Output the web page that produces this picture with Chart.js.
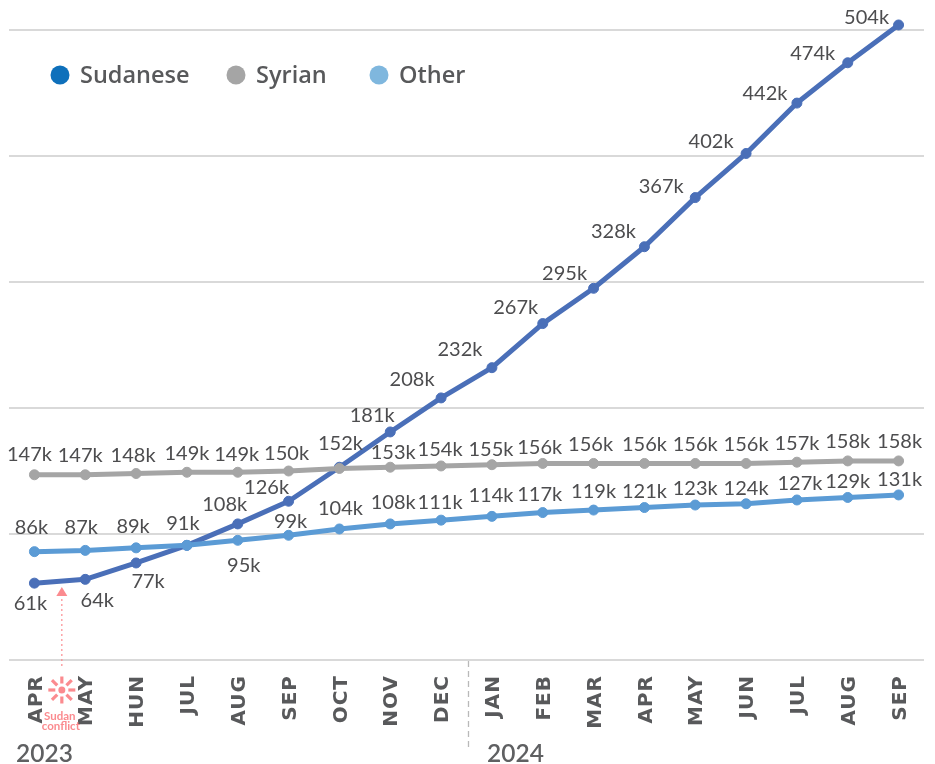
<!DOCTYPE html>
<html><head><meta charset="utf-8">
<style>html,body{margin:0;padding:0;background:#fff}canvas{display:block}</style>
<script src="https://cdn.jsdelivr.net/npm/chart.js@4"></script>
</head><body><canvas id="c" width="935" height="764"></canvas>
<script>
const months = ["APR","MAY","HUN","JUL","AUG","SEP","OCT","NOV","DEC","JAN","FEB","MAR","APR","MAY","JUN","JUL","AUG","SEP"];
const sudanese = [61,64,77,91,108,126,153,181,208,232,267,295,328,367,402,442,474,504];
const syrian = [147,147,148,149,149,150,152,153,154,155,156,156,156,156,156,157,158,158];
const other = [86,87,89,91,95,99,104,108,111,114,117,119,121,123,124,127,129,131];
const yearLabels = ["2023","2024"];
const yTicks = [0,100,200,300,400,500];

// label placement relative to each point (dx, dy); null = no label
const sudaneseOff = [[-4,20],[12,21],[12,19],null,[-13,-19],[-22,-14],null,[-18,-16],[-29,-18],[-32,-18],[-27,-16],[-29,-15],[-31,-15],[-34,-11],[-35,-12],[-32,-10],[-35,-9],[-32,-7]];
const syrianOff = [[-5,-20],[-5,-19],[-3,-18],[0,-19],[-1,-18],[-2,-17],[1,-25],[3,-15],[-1,-16],[-1,-15],[-3,-16],[-3,-19],[0,-19],[0,-19],[0,-19],[0,-19],[0,-19],[1,-19]];
const otherOff = [[-3,-24],[-4,-23],[-3,-21],[-4,-22],[6,25],[2,-14],[1,-20],[3,-21],[-1,-18],[-1,-21],[-3,-18],[0,-19],[0,-16],[0,-16],[0,-15],[3,-16],[0,-16],[1,-15]];
const offsets = [sudaneseOff, syrianOff, otherOff];
const legendX = [60,236,379];

const FONT = 'Lato, sans-serif';
const PINK = '#fb8b8f';

const annotations = {
  id:'annotations',
  beforeDraw(chart){ chart.ctx.letterSpacing='1px'; },
  afterDatasetsDraw(chart){
    const {ctx, scales:{x,y}} = chart;
    ctx.letterSpacing='0px';
    ctx.save();
    // value labels
    ctx.font = '20px '+FONT; ctx.fillStyle = '#4d4d4f';
    ctx.textAlign='center'; ctx.textBaseline='middle';
    chart.data.datasets.forEach((ds,i)=>{
      const meta = chart.getDatasetMeta(i);
      ds.data.forEach((v,j)=>{
        const o = offsets[i][j]; if(!o) return;
        const p = meta.data[j];
        ctx.fillText(v+'k', p.x+o[0], p.y+o[1]);
      });
    });
    // legend
    ctx.font='600 23.5px "Open Sans", sans-serif'; ctx.textAlign='left';
    chart.data.datasets.forEach((ds,i)=>{
      const lx=legendX[i];
      ctx.fillStyle=ds.backgroundColor;
      ctx.beginPath(); ctx.arc(lx,75,9.5,0,Math.PI*2); ctx.fill();
      ctx.fillStyle='#58595b';
      ctx.fillText(ds.label,lx+20,76);
    });
    // year divider
    const mid = (x.getPixelForTick(8)+x.getPixelForTick(9))/2+2;
    ctx.strokeStyle='#b9b9b9'; ctx.lineWidth=1.3; ctx.setLineDash([6,4]);
    ctx.beginPath(); ctx.moveTo(mid,y.bottom+1); ctx.lineTo(mid,747); ctx.stroke(); ctx.setLineDash([]);
    // year labels
    ctx.font='600 24.5px '+FONT; ctx.fillStyle='#5f6062'; ctx.textAlign='left'; ctx.textBaseline='alphabetic';
    ctx.fillText(yearLabels[0],16,762);
    ctx.fillText(yearLabels[1],487,762);
    // Sudan conflict marker
    const ax=(x.getPixelForTick(0)+x.getPixelForTick(1))/2+2;
    ctx.strokeStyle=PINK; ctx.fillStyle=PINK; ctx.lineWidth=1.2; ctx.setLineDash([2,3]);
    ctx.beginPath(); ctx.moveTo(ax,666); ctx.lineTo(ax,597); ctx.stroke(); ctx.setLineDash([]);
    ctx.beginPath(); ctx.moveTo(ax,587); ctx.lineTo(ax+5.5,596); ctx.lineTo(ax-5.5,596); ctx.closePath(); ctx.fill();
    const cy=690;
    ctx.beginPath(); ctx.arc(ax,cy,3.5,0,Math.PI*2); ctx.fill();
    ctx.lineWidth=3.2;
    for(let k=0;k<8;k++){
      const a=k*Math.PI/4; const r0=6.5, r1=k%2?14:13.5;
      ctx.beginPath(); ctx.moveTo(ax+Math.cos(a)*r0,cy+Math.sin(a)*r0); ctx.lineTo(ax+Math.cos(a)*r1,cy+Math.sin(a)*r1); ctx.stroke();
    }
    ctx.font='bold 11.5px '+FONT; ctx.textAlign='center'; ctx.textBaseline='middle';
    ctx.fillText('Sudan',ax-2,716);
    ctx.fillText('conflict',ax-1,726);
    ctx.restore();
  }
};

new Chart(document.getElementById('c'),{
  type:'line',
  data:{labels:months,datasets:[
    {label:'Sudanese',data:sudanese,order:3,borderColor:'#4a6fb8',pointBackgroundColor:'#4a6fb8',pointBorderColor:'#4a6fb8',backgroundColor:'#0e70bb'},
    {label:'Syrian',data:syrian,order:2,borderColor:'#a5a5a5',pointBackgroundColor:'#a5a5a5',pointBorderColor:'#a5a5a5',backgroundColor:'#a5a5a5'},
    {label:'Other',data:other,order:1,borderColor:'#5b9bd5',pointBackgroundColor:'#5b9bd5',pointBorderColor:'#5b9bd5',backgroundColor:'#7fb7de'}
  ]},
  options:{
    responsive:false,animation:false,
    layout:{padding:{left:9,right:11,top:30,bottom:0}},
    elements:{line:{borderWidth:5,tension:0,borderCapStyle:'round',borderJoinStyle:'round'},point:{radius:5,borderWidth:1}},
    datasets:{line:{clip:false}},
    scales:{
      x:{offset:true,grid:{display:false,drawTicks:false},border:{display:false},
        afterFit(s){s.height=104;s.paddingLeft=0;s.paddingRight=0;},
        ticks:{autoSkip:false,minRotation:90,maxRotation:90,padding:15,labelOffset:2,color:'#58595b',font:{family:'"DejaVu Sans", sans-serif',size:20,weight:'bold'}}},
      y:{min:0,max:500,afterBuildTicks(s){s.ticks=yTicks.map(v=>({value:v}));},
        border:{display:false},
        grid:{color:'#d9d9d9',lineWidth:2,drawTicks:false},
        ticks:{display:false},afterFit(s){s.width=0;}}
    },
    plugins:{tooltip:{enabled:false},legend:{display:false}}
  },
  plugins:[annotations]
});
</script></body></html>
